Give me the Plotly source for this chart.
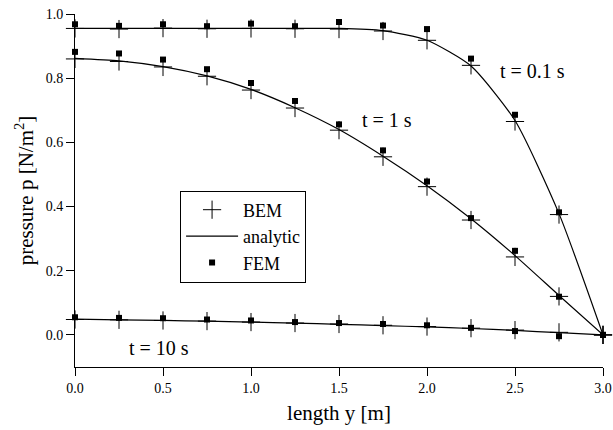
import plotly.graph_objects as go

y_len = [0.0, 0.25, 0.5, 0.75, 1.0, 1.25, 1.5, 1.75, 2.0, 2.25, 2.5, 2.75, 3.0]

# t = 0.1 s
ana_01 = [0.955, 0.955, 0.955, 0.955, 0.955, 0.955, 0.955, 0.948, 0.918, 0.838, 0.668, 0.378, 0.0]
bem_01 = [0.955, 0.953, 0.956, 0.954, 0.955, 0.954, 0.953, 0.947, 0.918, 0.840, 0.665, 0.375, 0.0]
fem_01 = [0.968, 0.963, 0.968, 0.962, 0.970, 0.962, 0.975, 0.964, 0.953, 0.861, 0.686, 0.382, 0.0]

# t = 1 s
ana_1 = [0.862, 0.854, 0.836, 0.807, 0.765, 0.708, 0.640, 0.557, 0.465, 0.362, 0.247, 0.123, 0.0]
bem_1 = [0.860, 0.852, 0.835, 0.806, 0.763, 0.707, 0.638, 0.555, 0.462, 0.358, 0.243, 0.120, 0.0]
fem_1 = [0.882, 0.877, 0.858, 0.828, 0.785, 0.729, 0.656, 0.575, 0.478, 0.364, 0.262, 0.119, 0.0]

# t = 10 s
ana_10 = [0.049, 0.047, 0.045, 0.043, 0.040, 0.037, 0.033, 0.029, 0.025, 0.020, 0.014, 0.007, 0.0]
bem_10 = [0.048, 0.047, 0.045, 0.043, 0.040, 0.037, 0.034, 0.030, 0.026, 0.021, 0.015, 0.008, 0.0]
fem_10 = [0.055, 0.053, 0.052, 0.048, 0.045, 0.040, 0.037, 0.034, 0.030, 0.022, 0.012, -0.004, 0.0]

labels = [("t = 0.1 s", 2.6, 0.823), ("t = 1 s", 1.77, 0.67), ("t = 10 s", 0.48, -0.04)]

FONT = "Liberation Serif, Times New Roman, Times, serif"
fig = go.Figure()

series = [(ana_01, bem_01, fem_01), (ana_1, bem_1, fem_1), (ana_10, bem_10, fem_10)]
for i, (a, b, f) in enumerate(series):
    fig.add_trace(go.Scatter(x=y_len, y=b, mode="markers", name="BEM", legendgroup="bem",
                             showlegend=(i == 0), cliponaxis=False, legendrank=1,
                             marker=dict(symbol="cross-thin", size=13, line=dict(width=1, color="black"), color="black")))
    fig.add_trace(go.Scatter(x=y_len, y=a, mode="lines", name="analytic", legendgroup="ana",
                             showlegend=(i == 0), cliponaxis=False, legendrank=2,
                             line=dict(color="black", width=1.2, shape="spline", smoothing=0.6)))
    fig.add_trace(go.Scatter(x=y_len, y=f, mode="markers", name="FEM", legendgroup="fem",
                             showlegend=(i == 0), cliponaxis=False, legendrank=3,
                             marker=dict(symbol="square", size=6, color="black")))

for txt, xx, yy in labels:
    fig.add_annotation(x=xx, y=yy, text=txt, showarrow=False, xanchor="center", yanchor="middle",
                       font=dict(family=FONT, size=20, color="black"))

fig.update_layout(
    width=613, height=430,
    margin=dict(l=75, r=10, t=14, b=63, autoexpand=False),
    paper_bgcolor="white", plot_bgcolor="white",
    font=dict(family=FONT, color="black"),
    legend=dict(x=0.199, y=0.50, xanchor="left", yanchor="top",
                bordercolor="black", borderwidth=1, bgcolor="white",
                font=dict(family=FONT, size=18, color="black"),
                traceorder="normal", itemwidth=52, tracegroupgap=0),
    xaxis=dict(range=[0, 3.0], tick0=0, dtick=0.5, tickformat=".1f", automargin=False,
               showline=True, linecolor="black", linewidth=1, ticks="outside", ticklen=8,
               tickcolor="black", showgrid=False, zeroline=False,
               tickfont=dict(family=FONT, size=14, color="black"),
               title=dict(text="length y [m]", font=dict(family=FONT, size=21, color="black"), standoff=10)),
    yaxis=dict(range=[-0.1, 1.0], tick0=0, dtick=0.2, tickformat=".1f", automargin=False,
               showline=True, linecolor="black", linewidth=1, ticks="outside", ticklen=8,
               tickcolor="black", showgrid=False, zeroline=False,
               tickfont=dict(family=FONT, size=14, color="black"),
               title=dict(text="pressure p [N/m<sup>2</sup>]", font=dict(family=FONT, size=21, color="black"), standoff=6)),
)

fig.write_html("out.html")
